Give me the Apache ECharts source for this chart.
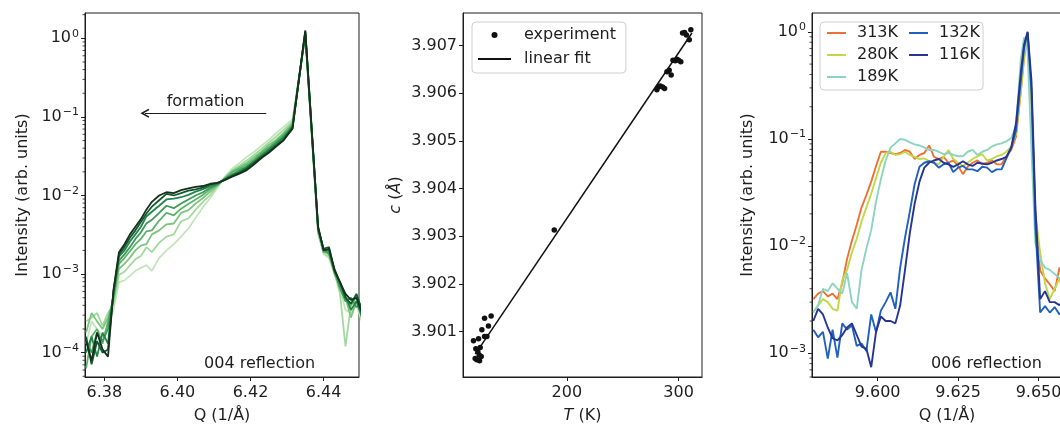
<!DOCTYPE html>
<html><head><meta charset="utf-8">
<script src="https://cdn.jsdelivr.net/npm/echarts@6/dist/echarts.min.js"></script>
<style>html,body{margin:0;padding:0;background:#fff}#c{width:1060px;height:427px}</style>
</head><body><div id="c"></div>
<script>
// ---------- Panel 1: 004 reflection ----------
const Q004 = [6.375, 6.3765, 6.378, 6.3795, 6.381, 6.3825, 6.384, 6.3855, 6.387, 6.3885, 6.390, 6.3915, 6.393, 6.395, 6.397, 6.399, 6.401, 6.403, 6.405, 6.407, 6.409, 6.411, 6.413, 6.415, 6.417, 6.419, 6.421, 6.423, 6.425, 6.427, 6.429, 6.4315, 6.435, 6.4385, 6.440, 6.4415, 6.443, 6.4445, 6.446, 6.4475, 6.449, 6.4505];
const g004_1 = [1.3e-4, 2.5e-4, 2.0e-4, 1.6e-4, 2.2e-4, 3.5e-4, 7.9e-4, 8.3e-4, 9.5e-4, 1.1e-3, 1.2e-3, 1.3e-3, 1.1e-3, 1.6e-3, 2.0e-3, 2.4e-3, 3.0e-3, 3.8e-3, 5.2e-3, 7.1e-3, 9.3e-3, 1.26e-2, 1.74e-2, 2.2e-2, 2.6e-2, 3.1e-2, 3.6e-2, 4.3e-2, 5.1e-2, 6.2e-2, 7.4e-2, 9.3e-2, 1.05, 3.2e-3, 1.8e-3, 1.6e-3, 1.0e-3, 6.3e-4, 3.5e-4, 3.2e-4, 4.0e-4, 2.5e-4];
const g004_2 = [2.5e-4, 2.8e-4, 3.2e-4, 2.2e-4, 3.2e-4, 4.1e-4, 9.8e-4, 1.07e-3, 1.29e-3, 1.55e-3, 1.7e-3, 2.2e-3, 1.9e-3, 2.5e-3, 3.0e-3, 3.2e-3, 4.7e-3, 5.1e-3, 6.6e-3, 8.3e-3, 1.02e-2, 1.32e-2, 1.7e-2, 2.1e-2, 2.4e-2, 2.8e-2, 3.3e-2, 3.9e-2, 4.7e-2, 5.6e-2, 6.8e-2, 8.7e-2, 1.12, 3.5e-3, 1.9e-3, 1.66e-3, 1.05e-3, 5.6e-4, 1.2e-4, 4.0e-4, 5.0e-4, 3.5e-4];
const g004_3 = [1.8e-4, 3.2e-4, 2.5e-4, 2.0e-4, 2.8e-4, 4.6e-4, 1.17e-3, 1.35e-3, 1.62e-3, 2.0e-3, 2.3e-3, 2.4e-3, 3.2e-3, 3.6e-3, 4.3e-3, 4.4e-3, 6.0e-3, 6.5e-3, 7.9e-3, 9.3e-3, 1.12e-2, 1.35e-2, 1.66e-2, 2.0e-2, 2.3e-2, 2.6e-2, 3.1e-2, 3.6e-2, 4.4e-2, 5.1e-2, 6.2e-2, 8.3e-2, 1.10, 3.8e-3, 2.0e-3, 1.8e-3, 1.12e-3, 7.1e-4, 5.0e-4, 2.8e-4, 4.5e-4, 4.0e-4];
const g004_4 = [6.3e-5, 1.6e-4, 2.0e-4, 1.3e-4, 2.5e-4, 5.0e-4, 1.35e-3, 1.6e-3, 1.95e-3, 2.4e-3, 2.8e-3, 3.5e-3, 3.6e-3, 4.8e-3, 6.0e-3, 5.6e-3, 6.8e-3, 7.8e-3, 8.9e-3, 1.02e-2, 1.2e-2, 1.38e-2, 1.66e-2, 2.0e-2, 2.2e-2, 2.45e-2, 2.9e-2, 3.5e-2, 4.1e-2, 4.9e-2, 5.9e-2, 7.9e-2, 1.17, 3.5e-3, 1.9e-3, 1.9e-3, 1.0e-3, 7.6e-4, 5.0e-4, 4.0e-4, 5.2e-4, 3.2e-4];
const g004_5 = [1.4e-4, 1.0e-4, 1.8e-4, 1.4e-4, 2.0e-4, 5.4e-4, 1.48e-3, 1.78e-3, 2.2e-3, 2.8e-3, 3.4e-3, 4.4e-3, 4.9e-3, 6.0e-3, 7.4e-3, 6.9e-3, 7.9e-3, 8.9e-3, 1.0e-2, 1.1e-2, 1.26e-2, 1.38e-2, 1.62e-2, 1.86e-2, 2.1e-2, 2.3e-2, 2.75e-2, 3.3e-2, 3.9e-2, 4.7e-2, 5.6e-2, 7.6e-2, 1.15, 3.8e-3, 2.1e-3, 1.8e-3, 1.07e-3, 6.6e-4, 4.5e-4, 5.0e-4, 3.8e-4, 4.2e-4];
const g004_6 = [1.0e-4, 1.6e-4, 8.9e-5, 1.8e-4, 1.3e-4, 5.8e-4, 1.66e-3, 2.0e-3, 2.6e-3, 3.2e-3, 4.0e-3, 5.4e-3, 6.2e-3, 7.4e-3, 8.9e-3, 9.1e-3, 9.5e-3, 1.02e-2, 1.12e-2, 1.2e-2, 1.32e-2, 1.41e-2, 1.62e-2, 1.82e-2, 2.0e-2, 2.3e-2, 2.7e-2, 3.2e-2, 3.8e-2, 4.5e-2, 5.4e-2, 7.4e-2, 1.20, 4.0e-3, 2.0e-3, 2.0e-3, 1.17e-3, 7.6e-4, 5.2e-4, 3.5e-4, 4.5e-4, 2.8e-4];
const g004_7 = [1.6e-4, 7.1e-5, 1.4e-4, 1.0e-4, 1.1e-4, 6.0e-4, 1.78e-3, 2.2e-3, 2.9e-3, 3.6e-3, 4.6e-3, 5.9e-3, 7.2e-3, 8.7e-3, 1.05e-2, 1.0e-2, 1.07e-2, 1.15e-2, 1.2e-2, 1.26e-2, 1.38e-2, 1.45e-2, 1.58e-2, 1.78e-2, 1.95e-2, 2.2e-2, 2.6e-2, 3.1e-2, 3.6e-2, 4.3e-2, 5.1e-2, 7.2e-2, 1.23, 3.8e-3, 2.1e-3, 2.2e-3, 1.1e-3, 7.9e-4, 5.0e-4, 4.2e-4, 5.6e-4, 3.5e-4];
const g004_8 = [1.4e-4, 7.9e-5, 1.8e-4, 1.1e-4, 8.9e-5, 6.3e-4, 1.9e-3, 2.4e-3, 3.2e-3, 4.0e-3, 5.0e-3, 6.6e-3, 8.3e-3, 1.0e-2, 1.1e-2, 1.07e-2, 1.17e-2, 1.23e-2, 1.29e-2, 1.32e-2, 1.41e-2, 1.45e-2, 1.58e-2, 1.74e-2, 1.9e-2, 2.1e-2, 2.5e-2, 3.0e-2, 3.5e-2, 4.2e-2, 5.0e-2, 7.1e-2, 1.26, 4.0e-3, 2.0e-3, 2.1e-3, 1.12e-3, 7.9e-4, 5.6e-4, 4.7e-4, 5.0e-4, 3.2e-4];
const g004Colors = ['#c2e6bb', '#a3d99e', '#7dc57e', '#5bb36a', '#3c9c56', '#23844a', '#0f5a2c', '#1a2e1e'];
const arrowQ = [6.3911, 6.4243];
const arrowI = 0.111;

// ---------- Panel 2: lattice parameter ----------
const T_exp = [116.4, 117.9, 118.5, 119.4, 120.3, 120.9, 121.5, 121.8, 122.4, 123.3, 123.9, 126.3, 126.3, 128.4, 129.8, 132.2, 188.7, 280.6, 282.0, 283.6, 285.7, 287.5, 289.6, 291.6, 293.4, 295.0, 297.0, 298.5, 300.0, 302.0, 303.6, 305.4, 307.0, 309.6, 311.0];
const c_exp = [3.90081, 3.90044, 3.90064, 3.90041, 3.90058, 3.90085, 3.90051, 3.90039, 3.90067, 3.90048, 3.90104, 3.90090, 3.90128, 3.90090, 3.90112, 3.90133, 3.90313, 3.90607, 3.90613, 3.90615, 3.90613, 3.90610, 3.90645, 3.90648, 3.90638, 3.90669, 3.90668, 3.90671, 3.90669, 3.90666, 3.90726, 3.90727, 3.90722, 3.90712, 3.90733];
const T_fit = [118, 312];
const c_fit = [3.90053, 3.90726];

// ---------- Panel 3: 006 reflection ----------
const Q006 = [9.5800, 9.5815, 9.5830, 9.5845, 9.5860, 9.5875, 9.5890, 9.5905, 9.5920, 9.5935, 9.5950, 9.5965, 9.5980, 9.5995, 9.6010, 9.6025, 9.6040, 9.6055, 9.6070, 9.6085, 9.6100, 9.6115, 9.6130, 9.6145, 9.6160, 9.6175, 9.6190, 9.6205, 9.6220, 9.6235, 9.6250, 9.6265, 9.6280, 9.6295, 9.6310, 9.6325, 9.6340, 9.6355, 9.6370, 9.6385, 9.6400, 9.6415, 9.6430, 9.6445, 9.6455, 9.6466, 9.6478, 9.6490, 9.6505, 9.6520, 9.6535, 9.6550, 9.6565, 9.6580, 9.6600, 9.6620, 9.6640];
const I313 = [3.2e-3, 3.6e-3, 3.8e-3, 3.4e-3, 3.6e-3, 3.2e-3, 4.5e-3, 7.6e-3, 1.12e-2, 1.58e-2, 2.3e-2, 3.0e-2, 4.0e-2, 5.6e-2, 7.6e-2, 7.6e-2, 7.4e-2, 7.2e-2, 7.4e-2, 7.9e-2, 7.6e-2, 6.5e-2, 7.1e-2, 7.4e-2, 8.7e-2, 6.8e-2, 6.5e-2, 6.8e-2, 6.0e-2, 6.3e-2, 5.6e-2, 4.7e-2, 5.5e-2, 6.0e-2, 6.3e-2, 5.8e-2, 6.0e-2, 6.3e-2, 5.8e-2, 5.8e-2, 6.9e-2, 7.9e-2, 0.105, 0.28, 0.56, 0.98, 0.22, 1.8e-2, 5.9e-3, 5.0e-3, 4.4e-3, 3.8e-3, 6.3e-3, 4.5e-3, 5.0e-3, 4.0e-3, 4.5e-3];
const I280 = [2.4e-3, 2.8e-3, 3.2e-3, 3.0e-3, 2.6e-3, 2.5e-3, 4.8e-3, 6.0e-3, 8.7e-3, 1.17e-2, 1.7e-2, 2.3e-2, 3.1e-2, 4.3e-2, 6.0e-2, 7.4e-2, 7.6e-2, 7.1e-2, 7.2e-2, 7.6e-2, 7.1e-2, 6.8e-2, 6.5e-2, 6.6e-2, 6.2e-2, 6.0e-2, 5.8e-2, 6.8e-2, 7.9e-2, 6.5e-2, 6.0e-2, 5.6e-2, 6.0e-2, 6.5e-2, 6.9e-2, 7.2e-2, 6.3e-2, 6.5e-2, 6.9e-2, 7.1e-2, 7.6e-2, 8.5e-2, 0.112, 0.28, 0.60, 0.95, 0.24, 2.0e-2, 8.7e-3, 4.5e-3, 3.2e-3, 4.0e-3, 5.0e-3, 3.5e-3, 4.5e-3, 3.8e-3, 4.2e-3];
const I189 = [2.4e-3, 2.8e-3, 4.0e-3, 3.8e-3, 4.5e-3, 4.0e-3, 3.6e-3, 5.6e-3, 3.0e-3, 2.6e-3, 6.0e-3, 9.5e-3, 1.41e-2, 2.6e-2, 4.2e-2, 6.3e-2, 8.3e-2, 9.1e-2, 0.100, 9.8e-2, 9.3e-2, 8.9e-2, 8.7e-2, 8.3e-2, 7.9e-2, 7.9e-2, 7.6e-2, 7.2e-2, 7.4e-2, 7.1e-2, 6.9e-2, 6.9e-2, 7.6e-2, 7.9e-2, 7.1e-2, 7.6e-2, 7.9e-2, 8.5e-2, 8.9e-2, 9.1e-2, 9.5e-2, 0.102, 0.132, 0.56, 0.89, 0.66, 7.9e-2, 1.07e-2, 7.4e-3, 6.3e-3, 6.0e-3, 5.5e-3, 5.0e-3, 5.6e-3, 5.2e-3, 4.8e-3, 5.0e-3];
const I132 = [1.66e-3, 1.41e-3, 1.58e-3, 8.9e-4, 1.66e-3, 9.1e-4, 1.9e-3, 1.66e-3, 1.82e-3, 1.17e-3, 1.23e-3, 1.05e-3, 2.3e-3, 1.58e-3, 2.5e-3, 3.0e-3, 3.7e-3, 2.6e-3, 6.3e-3, 1.2e-2, 2.1e-2, 3.8e-2, 5.5e-2, 6.0e-2, 6.2e-2, 6.0e-2, 5.4e-2, 5.8e-2, 6.0e-2, 4.9e-2, 5.4e-2, 5.6e-2, 5.2e-2, 5.2e-2, 5.0e-2, 5.5e-2, 5.4e-2, 4.9e-2, 5.2e-2, 5.2e-2, 6.6e-2, 8.3e-2, 0.120, 0.35, 0.71, 0.98, 0.28, 1.58e-2, 2.4e-3, 2.75e-3, 2.4e-3, 2.7e-3, 2.3e-3, 2.6e-3, 2.4e-3, 2.8e-3, 2.5e-3];
const I116 = [2.0e-3, 2.6e-3, 2.3e-3, 1.74e-3, 1.38e-3, 1.32e-3, 1.48e-3, 1.74e-3, 1.9e-3, 1.48e-3, 1.15e-3, 1.1e-3, 7.4e-4, 1.58e-3, 2.2e-3, 2.0e-3, 2.0e-3, 1.9e-3, 2.8e-3, 6.0e-3, 1.32e-2, 2.5e-2, 4.0e-2, 5.4e-2, 6.0e-2, 6.3e-2, 6.5e-2, 6.0e-2, 5.8e-2, 5.5e-2, 5.8e-2, 6.2e-2, 5.8e-2, 5.6e-2, 6.0e-2, 5.9e-2, 5.8e-2, 6.0e-2, 6.3e-2, 6.5e-2, 6.8e-2, 8.3e-2, 0.141, 0.42, 0.76, 1.0, 0.35, 2.4e-2, 3.2e-3, 3.8e-3, 3.0e-3, 3.0e-3, 2.8e-3, 3.2e-3, 3.0e-3, 3.3e-3, 3.0e-3];
const names006 = ['313K', '280K', '189K', '132K', '116K'];
const colors006 = ['#f07034', '#c0d845', '#8cd4c0', '#1f60c0', '#263494'];

// axis limits and tick spacing
const xLim004 = [6.3747, 6.4497], yLim004 = [4.9e-5, 2.1], xStep004 = 0.02;
const xLimT = [107, 321], yLimC = [3.90005, 3.90768], xStepT = 100, yStepC = 0.001;
const xLim006 = [9.5796, 9.6635], yLim006 = [6.0e-4, 1.5], xStep006 = 0.025;
const minorMantissa = [2, 3, 4, 5, 6, 7, 8, 9];

const FONT = 'DejaVu Sans';
const INK = '#1e1e1e';

function zip(xs, ys) { return xs.map((x, i) => [x, ys[i]]); }
function logLabel(v) {
  const e = Math.round(Math.log10(v));
  return '{b|10}{s|' + (e < 0 ? '\u2212' + (-e) : String(e)) + '}';
}
const logRich = {
  b: { fontSize: 16, color: INK, lineHeight: 20, fontFamily: FONT },
  s: { fontSize: 11, color: INK, lineHeight: 11, verticalAlign: 'top', padding: [0, 0, 0, 1], fontFamily: FONT }
};
function baseAxis(extra) {
  return Object.assign({
    axisLine: { show: true, onZero: false, lineStyle: { color: INK, width: 1 } },
    axisTick: { show: true, inside: false, length: 4, lineStyle: { color: INK, width: 1 } },
    splitLine: { show: false },
    nameLocation: 'middle',
    nameTextStyle: { fontSize: 16, color: INK, fontFamily: FONT, rich: { i: { fontStyle: 'italic', fontSize: 16, color: INK, fontFamily: FONT } } }
  }, extra);
}
function valueX(idx, lim, step, digits, name) {
  return baseAxis({
    type: 'value', gridIndex: idx, min: lim[0], max: lim[1], minInterval: step, maxInterval: step,
    name: name, nameGap: 31,
    axisLabel: { fontSize: 16, color: INK, fontFamily: FONT, margin: 8, showMinLabel: false, showMaxLabel: false,
      formatter: v => v.toFixed(digits) }
  });
}
function logY(idx, lim, nameGap) {
  return baseAxis({
    type: 'log', logBase: 10, gridIndex: idx, min: lim[0], max: lim[1],
    name: 'Intensity (arb. units)', nameGap: nameGap,
    axisLabel: { margin: 6, showMinLabel: false, showMaxLabel: false, formatter: logLabel, rich: logRich }
  });
}
function minorTicks(axisIdx, xAt, lim) {
  const vals = [];
  for (let e = -6; e <= 1; e++) for (const m of minorMantissa) {
    const v = m * Math.pow(10, e);
    if (v > lim[0] && v < lim[1]) vals.push([xAt, v]);
  }
  return {
    type: 'custom', xAxisIndex: axisIdx, yAxisIndex: axisIdx, silent: true, clip: false, z: 6,
    data: vals,
    renderItem: (params, api) => {
      const p = api.coord([api.value(0), api.value(1)]);
      return { type: 'line', shape: { x1: p[0] - 2.5, y1: p[1], x2: p[0], y2: p[1] }, style: { stroke: INK, lineWidth: 0.8 } };
    }
  };
}

const series = [];
const greenData = [g004_1, g004_2, g004_3, g004_4, g004_5, g004_6, g004_7, g004_8];
greenData.forEach((arr, i) => {
  series.push({
    type: 'line', name: 'g' + (i + 1), xAxisIndex: 0, yAxisIndex: 0, data: zip(Q004, arr),
    showSymbol: false, symbol: 'none', silent: true, z: 2,
    lineStyle: { color: g004Colors[i], width: 1.8 }, itemStyle: { color: g004Colors[i] }
  });
});
series[series.length - 1].markLine = {
  silent: true, animation: false,
  symbol: ['path://M5,0 L10,8 L8.6,9 L5,3.2 L1.4,9 L0,8 Z', 'none'], symbolSize: [9, 9],
  lineStyle: { color: INK, width: 1.2, type: 'solid' },
  label: { show: true, position: 'insideMiddleTop', formatter: 'formation', fontSize: 16, color: INK, fontFamily: FONT, distance: 3 },
  data: [[{ coord: [arrowQ[0], arrowI] }, { coord: [arrowQ[1], arrowI] }]]
};
series[series.length - 1].markPoint = {
  silent: true, symbol: 'circle', symbolSize: 1, itemStyle: { color: 'rgba(0,0,0,0)' },
  label: { show: true, position: 'inside', formatter: '004 reflection', fontSize: 16, color: INK, fontFamily: FONT },
  data: [{ coord: [6.4225, 7.3e-5] }]
};
series.push(minorTicks(0, xLim004[0], yLim004));

series.push({
  type: 'line', name: 'linear fit', xAxisIndex: 1, yAxisIndex: 1, data: zip(T_fit, c_fit),
  showSymbol: false, symbol: 'none', silent: true, z: 2,
  lineStyle: { color: '#111', width: 1.5 }, itemStyle: { color: '#111' }
});
series.push({
  type: 'scatter', name: 'experiment', xAxisIndex: 1, yAxisIndex: 1, data: zip(T_exp, c_exp),
  symbol: 'circle', symbolSize: 5.5, silent: true, z: 3, itemStyle: { color: '#111', opacity: 1 }
});

const data006 = [I313, I280, I189, I132, I116];
data006.forEach((arr, i) => {
  series.push({
    type: 'line', name: names006[i], xAxisIndex: 2, yAxisIndex: 2, data: zip(Q006, arr),
    showSymbol: false, symbol: 'none', silent: true, z: 2,
    lineStyle: { color: colors006[i], width: 1.9 }, itemStyle: { color: colors006[i] }
  });
});
series[series.length - 1].markPoint = {
  silent: true, symbol: 'circle', symbolSize: 1, itemStyle: { color: 'rgba(0,0,0,0)' },
  label: { show: true, position: 'inside', formatter: '006 reflection', fontSize: 16, color: INK, fontFamily: FONT },
  data: [{ coord: [9.6338, 7.9e-4] }]
};
series.push(minorTicks(2, xLim006[0], yLim006));

const gridBase = { show: true, borderColor: INK, borderWidth: 1, backgroundColor: 'rgba(0,0,0,0)', containLabel: false, outerBoundsMode: 'none' };
const legendBase = {
  orient: 'vertical', selectedMode: false, itemHeight: 8,
  textStyle: { fontSize: 16, color: INK, fontFamily: FONT, padding: [0, 0, 0, 6] }
};
const noDot = { opacity: 0 };
function lineLegendItems(names) { return names.map(n => ({ name: n, itemStyle: noDot })); }

const option = {
  animation: false,
  backgroundColor: '#fff',
  textStyle: { fontFamily: FONT },
  grid: [
    Object.assign({ left: 85, top: 13, width: 274, height: 364 }, gridBase),
    Object.assign({ left: 463, top: 13, width: 239, height: 364 }, gridBase),
    Object.assign({ left: 812, top: 13, width: 270, height: 364 }, gridBase)
  ],
  xAxis: [
    valueX(0, xLim004, xStep004, 2, 'Q (1/Å)'),
    valueX(1, xLimT, xStepT, 0, '{i|T} (K)'),
    valueX(2, xLim006, xStep006, 3, 'Q (1/Å)')
  ],
  yAxis: [
    logY(0, yLim004, 54),
    baseAxis({
      type: 'value', gridIndex: 1, min: yLimC[0], max: yLimC[1], minInterval: yStepC, maxInterval: yStepC,
      name: '{i|c} ({i|Å})', nameGap: 59,
      axisLabel: { fontSize: 16, color: INK, fontFamily: FONT, margin: 6, showMinLabel: false, showMaxLabel: false,
        formatter: v => v.toFixed(3) }
    }),
    logY(2, yLim006, 56)
  ],
  legend: [
    Object.assign({}, legendBase, {
      left: 472, top: 22,
      data: [{ name: 'experiment', itemStyle: { opacity: 1, color: '#111' } }, { name: 'linear fit', itemStyle: noDot }],
      itemWidth: 33, itemHeight: 6, itemGap: 8,
      padding: [5, 10, 6, 5], borderColor: '#cfcfcf', borderWidth: 1, borderRadius: 4, backgroundColor: 'rgba(255,255,255,0.85)',
      textStyle: { fontSize: 16, color: INK, fontFamily: FONT, padding: [0, 0, 0, 8] }
    }),
    Object.assign({}, legendBase, {
      left: 820, top: 22, data: lineLegendItems(names006.slice(0, 3)), itemWidth: 19, itemGap: 6,
      padding: [3, 85, 5, 6], borderColor: '#cfcfcf', borderWidth: 1, borderRadius: 4, backgroundColor: 'rgba(255,255,255,0.85)'
    }),
    Object.assign({}, legendBase, {
      left: 902, top: 22, z: 6, data: lineLegendItems(names006.slice(3)), itemWidth: 19, itemGap: 6,
      padding: [3, 0, 5, 6]
    })
  ],
  series: series
};

const chart = echarts.init(document.getElementById('c'), null, { renderer: 'canvas' });
chart.setOption(option);
</script></body></html>
